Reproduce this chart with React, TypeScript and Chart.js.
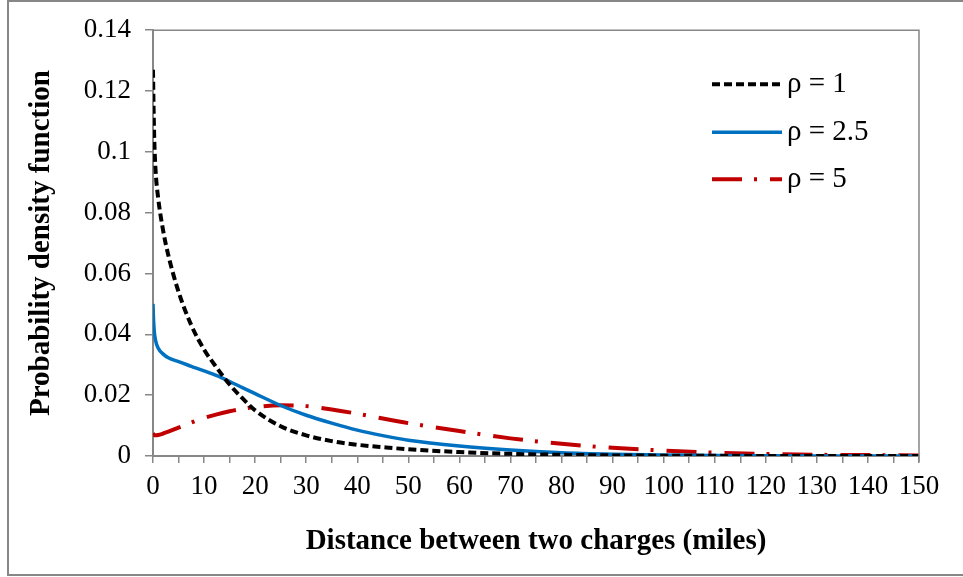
import React, { useEffect, useRef } from "react";
import { Chart, registerables } from "chart.js";

Chart.register(...registerables);

const distances = [0, 0.1, 0.25, 0.5, 1, 2, 3, 5, 7.5, 10, 12.5, 15, 17.5, 20, 25, 30, 35, 40, 45, 50, 60, 70, 80, 90, 100, 110, 120, 130, 140, 150];
const rho1Values = [0.127, 0.116, 0.104, 0.094, 0.085, 0.074, 0.066, 0.054, 0.043, 0.035, 0.029, 0.0235, 0.019, 0.015, 0.0098, 0.0068, 0.0049, 0.0037, 0.0029, 0.0022, 0.0013, 0.0007, 0.0004, 0.0002, 0.0001, 0.00005, 0, 0, 0, 0];
const rho25Values = [0.05, 0.045, 0.041, 0.038, 0.0355, 0.0335, 0.0323, 0.031, 0.0295, 0.028, 0.0264, 0.0245, 0.0225, 0.0205, 0.0166, 0.0134, 0.0108, 0.0085, 0.0067, 0.0052, 0.0033, 0.002, 0.0011, 0.0006, 0.0003, 0.00015, 0.00008, 0.00004, 0.00002, 0.00001];
const rho5Values = [0.0075, 0.0072, 0.0069, 0.0068, 0.0069, 0.0074, 0.008, 0.0093, 0.011, 0.0125, 0.0137, 0.0147, 0.0155, 0.0161, 0.0167, 0.0164, 0.0153, 0.0139, 0.0123, 0.0108, 0.0082, 0.0058, 0.004, 0.0027, 0.0018, 0.0011, 0.0007, 0.0004, 0.0003, 0.0002];
const seriesLabels = ["ρ = 1", "ρ = 2.5", "ρ = 5"];
const xTickLabels = ["0", "10", "20", "30", "40", "50", "60", "70", "80", "90", "100", "110", "120", "130", "140", "150"];
const yTickLabels = ["0", "0.02", "0.04", "0.06", "0.08", "0.1", "0.12", "0.14"];

const FONT = "'Liberation Serif', 'Times New Roman', serif";
const GRAY = "#878787";

const frame = {
  id: "frame",
  afterDraw(chart: any) {
    const { ctx, chartArea } = chart;
    ctx.save();
    ctx.strokeStyle = GRAY;
    ctx.lineWidth = 1.5;
    ctx.beginPath();
    ctx.moveTo(chartArea.left, chartArea.top);
    ctx.lineTo(chartArea.right, chartArea.top);
    ctx.lineTo(chartArea.right, chartArea.bottom + 6);
    ctx.stroke();
    ctx.lineWidth = 2;
    ctx.beginPath();
    ctx.moveTo(963, 1);
    ctx.lineTo(8, 1);
    ctx.lineTo(8, 575);
    ctx.lineTo(963, 575);
    ctx.stroke();
    const x0 = chartArea.right - 207;
    const rows = [chartArea.top + 54, chartArea.top + 102, chartArea.top + 149];
    chart.data.datasets.forEach((ds: any, i: number) => {
      const y = rows[i];
      ctx.strokeStyle = ds.borderColor;
      ctx.lineWidth = ds.borderWidth;
      ctx.setLineDash(ds.borderDash || []);
      ctx.lineCap = "butt";
      ctx.beginPath();
      ctx.moveTo(x0, y);
      ctx.lineTo(x0 + 70, y);
      ctx.stroke();
      ctx.setLineDash([]);
      ctx.fillStyle = "#000";
      ctx.font = `29px ${FONT}`;
      ctx.textBaseline = "middle";
      ctx.textAlign = "left";
      ctx.fillText(ds.label, x0 + 75, y);
    });
    ctx.restore();
  },
};

export default function App() {
  const ref = useRef<HTMLCanvasElement | null>(null);
  useEffect(() => {
    if (!ref.current) return;
    const mk = (vals: number[]) => distances.map((d, i) => ({ x: d, y: vals[i] }));
    const chart = new Chart(ref.current, {
      type: "line",
      data: {
        datasets: [
          { label: seriesLabels[0], data: mk(rho1Values), borderColor: "#000000", borderWidth: 4, borderDash: [8, 4], pointRadius: 0, cubicInterpolationMode: "monotone", fill: false },
          { label: seriesLabels[1], data: mk(rho25Values), borderColor: "#0070C0", borderWidth: 3.5, pointRadius: 0, cubicInterpolationMode: "monotone", fill: false },
          { label: seriesLabels[2], data: mk(rho5Values), borderColor: "#C00000", borderWidth: 4, borderDash: [30, 12, 3, 13], pointRadius: 0, cubicInterpolationMode: "monotone", fill: false },
        ],
      },
      options: {
        responsive: false,
        animation: false,
        layout: { padding: { top: 29, right: 44, left: 0, bottom: 0 } },
        plugins: { legend: { display: false }, tooltip: { enabled: false } },
        scales: {
          x: {
            type: "linear",
            min: 0,
            max: 150,
            ticks: {
              stepSize: 5,
              autoSkip: false,
              maxRotation: 0,
              padding: 8,
              color: "#000",
              font: { family: FONT, size: 27 },
              callback: (v: any) => (v % 10 === 0 ? xTickLabels[v / 10] : ""),
            },
            grid: { drawOnChartArea: false, drawTicks: true, tickLength: 7, color: GRAY, lineWidth: 1.5 },
            border: { color: GRAY, width: 2 },
            title: { display: true, text: "Distance between two charges (miles)", color: "#000", font: { family: FONT, size: 29, weight: "bold" }, padding: { bottom: 18 } },
            afterFit: (s: any) => { s.height = 121; },
          },
          y: {
            min: 0,
            max: 0.14,
            ticks: {
              stepSize: 0.02,
              padding: 14,
              color: "#000",
              font: { family: FONT, size: 27 },
              callback: (v: any) => yTickLabels[Math.round(v / 0.02)],
            },
            grid: { drawOnChartArea: false, drawTicks: true, tickLength: 8, color: GRAY, lineWidth: 1.5 },
            border: { color: GRAY, width: 2 },
            title: { display: true, text: "Probability density function", color: "#000", font: { family: FONT, size: 29, weight: "bold" }, padding: { top: 24 } },
            afterFit: (s: any) => { s.width = 153; },
          },
        },
      },
      plugins: [frame],
    } as any);
    return () => chart.destroy();
  }, []);
  return (
    <div style={{ position: "absolute", left: 0, top: 0, width: 963, height: 577, background: "#fff" }}>
      <canvas ref={ref} width={963} height={577} style={{ width: 963, height: 577, display: "block" }} />
    </div>
  );
}
